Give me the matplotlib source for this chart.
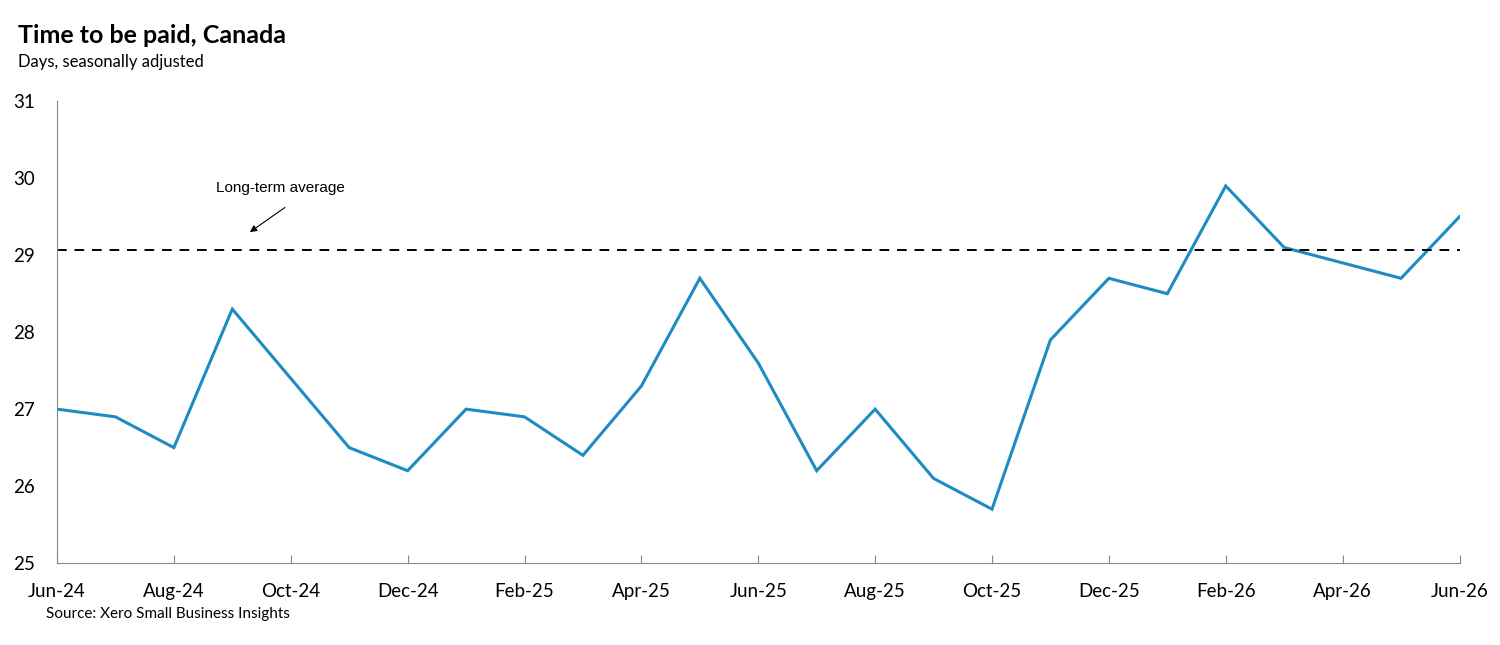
import pandas as pd
import matplotlib.pyplot as plt

# monthly values
months = pd.date_range("2024-06-01", "2026-06-01", freq="MS")
days = [27.0, 26.9, 26.5, 28.3, 27.4, 26.5, 26.2, 27.0, 26.9, 26.4, 27.3, 28.7,
        27.6, 26.2, 27.0, 26.1, 25.7, 27.9, 28.7, 28.5, 29.9, 29.1, 28.9, 28.7, 29.5]
long_term_avg = 29.07
y_ticks = [25, 26, 27, 28, 29, 30, 31]

plt.rcParams["font.family"] = ["Lato", "DejaVu Sans"]

fig = plt.figure(figsize=(15, 6.45), dpi=100)
ax = fig.add_axes([0.038, 0.127, 0.935, 0.716])

x = list(range(len(months)))
ax.plot(x, days, color="#1f8bc3", lw=2.2, solid_joinstyle="miter")
ax.plot([x[0], x[-1]], [long_term_avg] * 2, color="black", lw=1.4, ls=(0, (5, 4)))

ax.set_xlim(x[0], x[-1])
ax.set_ylim(25, 31)
ax.set_yticks(y_ticks)
ax.set_xticks(x[::2])
ax.set_xticklabels([m.strftime("%b-%y") for m in months[::2]])
ax.tick_params(axis="x", direction="in", length=6, color="#888888", labelsize=13.5, pad=14)
ax.tick_params(axis="y", length=0, labelsize=13.5, pad=16)

for s in ["top", "right"]:
    ax.spines[s].set_visible(False)
ax.spines["left"].set_color("#888888")
ax.spines["bottom"].set_color("#888888")

# annotation
ax.text(3.82, 29.87, "Long-term average", fontsize=11, family="Liberation Sans",
        ha="center", va="center")
ax.annotate("", xy=(3.3, 29.3), xytext=(3.9, 29.62),
            arrowprops=dict(arrowstyle="-|>", color="black", lw=0.8, shrinkA=0, shrinkB=0))

fig.text(0.012, 0.945, "Time to be paid, Canada", fontsize=18, fontweight="bold", va="center")
fig.text(0.012, 0.904, "Days, seasonally adjusted", fontsize=12, va="center")
fig.text(0.031, 0.048, "Source: Xero Small Business Insights", fontsize=11, va="center")

plt.savefig("out.png")
